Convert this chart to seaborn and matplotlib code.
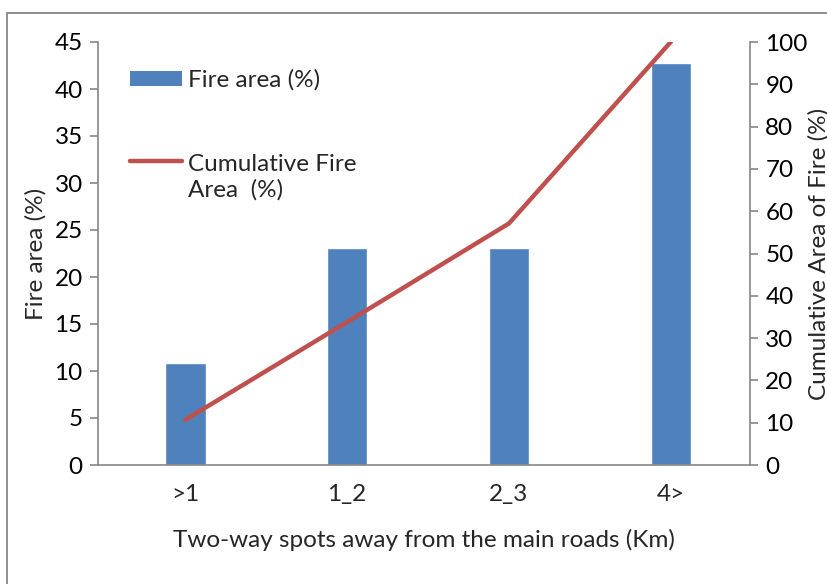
import numpy as np
import pandas as pd
import matplotlib
matplotlib.use("Agg")
import matplotlib.pyplot as plt
import seaborn as sns
from matplotlib.patches import Patch, Rectangle
from matplotlib.lines import Line2D
from matplotlib.legend_handler import HandlerLine2D

categories = [">1", "1_2", "2_3", "4>"]
fire_area = [10.8, 23.1, 23.1, 42.8]
cumulative = [10.7, 33.8, 57.1, 100.0]
left_ticks = [0, 5, 10, 15, 20, 25, 30, 35, 40, 45]
right_ticks = [0, 10, 20, 30, 40, 50, 60, 70, 80, 90, 100]

sns.set_theme(style="white")
plt.rcParams['font.family'] = ['Lato', 'DejaVu Sans']

grey = "#868686"
bar_color = "#4F81BD"
line_color = "#C0504D"
fs = 17.5


class HandlerLineTop(HandlerLine2D):
    """Draw the legend line level with the first line of a two-line label."""
    def create_artists(self, legend, orig_handle, xdescent, ydescent, width, height,
                       fontsize, trans):
        artists = super().create_artists(legend, orig_handle, xdescent, ydescent,
                                         width, height, fontsize, trans)
        for a in artists:
            if isinstance(a, Line2D):
                y = np.asarray(a.get_ydata(), dtype=float)
                a.set_ydata(y + 0.6 * fontsize + 1.5)
        return artists


fig = plt.figure(figsize=(8.28, 5.84), dpi=100)
fig.patch.set_facecolor("white")
fig.patches.append(Rectangle((7/828, -0.1), 1.2, 1 - 13/584 + 0.1, transform=fig.transFigure,
                             fill=False, edgecolor=grey, linewidth=1.3))

ax = fig.add_axes([98/828, 1 - 465/584, (750 - 98)/828, (465 - 42)/584])
df = pd.DataFrame({"cat": categories, "fire": fire_area, "cum": cumulative,
                   "pos": np.arange(len(categories))})

sns.barplot(data=df, x="cat", y="fire", color=bar_color, width=0.25, saturation=1,
            ax=ax, zorder=2)
ax.set_ylim(0, 45)
ax.set_yticks(left_ticks)
ax.set_xlim(-0.54, 3.49)

ax2 = ax.twinx()
sns.lineplot(data=df, x="pos", y="cum", color=line_color, linewidth=3.2, ax=ax2,
             solid_capstyle="round")
ax2.set_ylim(0, 100)
ax2.set_yticks(right_ticks)
ax2.set_xlim(-0.54, 3.49)

for a in (ax, ax2):
    for s in a.spines.values():
        s.set_visible(False)
ax.spines['left'].set_visible(True)
ax.spines['bottom'].set_visible(True)
ax2.spines['right'].set_visible(True)
for s in (ax.spines['left'], ax.spines['bottom'], ax2.spines['right']):
    s.set_color(grey)
    s.set_linewidth(1.2)

ax.tick_params(axis='y', which='both', left=True, length=6, width=1.2, color=grey,
               labelsize=fs, pad=5, labelcolor="black")
ax.tick_params(axis='x', bottom=False, labelsize=fs, pad=8)
ax2.tick_params(axis='y', right=True, length=6, width=1.2, color=grey,
                labelsize=fs, pad=5, labelcolor="black")

ax.set_xticks(np.arange(len(categories)))
ax.set_xticklabels(categories)
ax.set_xlabel("Two-way spots away from the main roads (Km)", fontsize=fs, labelpad=17)
ax.set_ylabel("Fire area (%)", fontsize=fs, labelpad=6)
ax2.set_ylabel("Cumulative Area of Fire (%)", fontsize=fs, labelpad=0)
ax2.set_xlabel("")
ax2.set_xticks(np.arange(len(categories)))

handles = [Patch(facecolor=bar_color, edgecolor="none"),
           Line2D([0], [0], color=line_color, linewidth=3.2, solid_capstyle="round")]
labels = ["Fire area (%)", "Cumulative Fire\nArea  (%)"]
leg = ax2.legend(handles, labels, loc="upper left", bbox_to_anchor=(0.049, 0.935),
                 frameon=False, fontsize=fs, handlelength=2.15, handleheight=0.55,
                 handletextpad=0.25, labelspacing=2.6, borderpad=0, borderaxespad=0,
                 handler_map={Line2D: HandlerLineTop()})

fig.savefig("out.png", dpi=100, facecolor="white")
